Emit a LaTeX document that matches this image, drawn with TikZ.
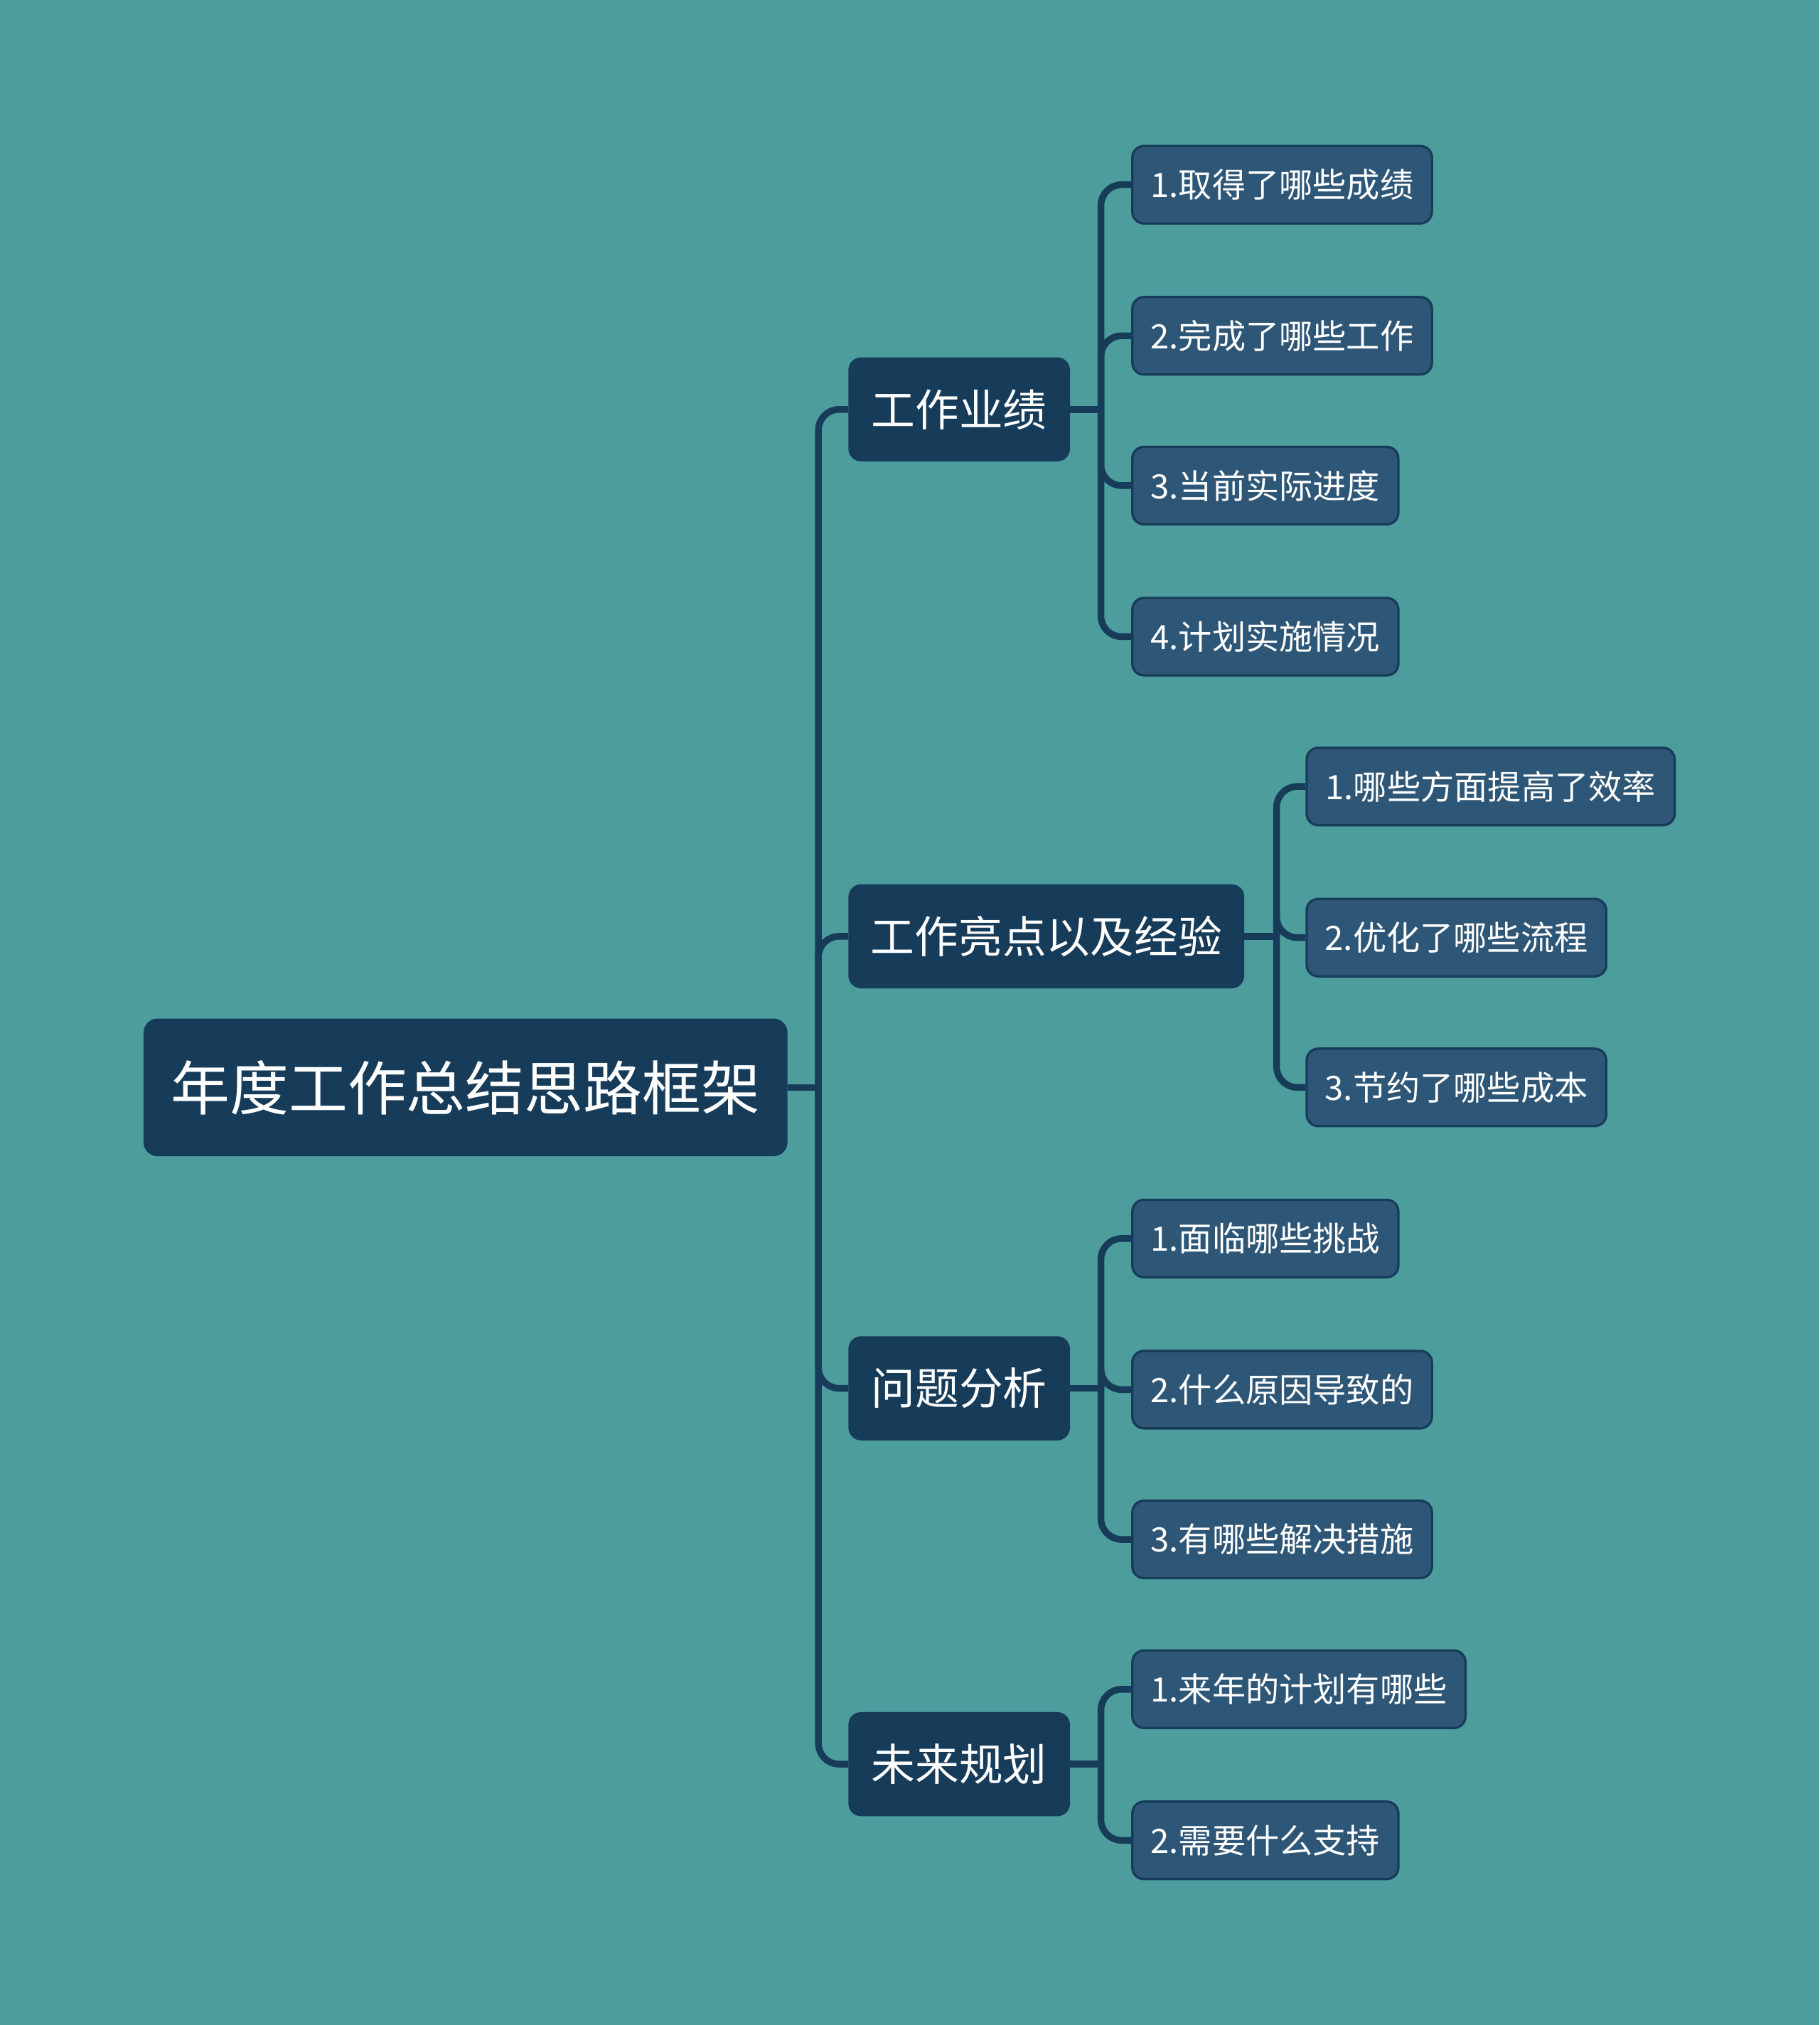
\documentclass[tikz,border=0pt]{standalone}
\usepackage{fontspec}
\newfontfamily\cjk{Noto Sans CJK SC}
\definecolor{bgteal}{HTML}{4C9D9C}
\definecolor{navy}{HTML}{173C5A}
\definecolor{slate}{HTML}{2E5676}
\tikzset{
  rootbox/.style={draw=navy, fill=navy, line width=0.8pt, rounded corners=5pt,
    text=white, font=\cjk\fontsize{22.8}{28}\selectfont, inner sep=0pt,
    minimum width=248.5pt, minimum height=52.5pt},
  topicbox/.style={draw=navy, fill=navy, line width=0.8pt, rounded corners=4.5pt,
    text=white, font=\cjk\fontsize{17}{20}\selectfont, inner sep=0pt,
    minimum height=39.5pt, anchor=west},
  itembox/.style={draw=navy, fill=slate, line width=0.9pt, rounded corners=4.5pt,
    text=white, font=\cjk\fontsize{13}{16}\selectfont, inner sep=0pt,
    minimum height=30pt, anchor=west},
  link/.style={draw=navy, line width=2.6pt, rounded corners=8pt}
}
\begin{document}
\begin{tikzpicture}[x=0.5pt,y=-0.5pt]
      \fill[bgteal] (0,0) rectangle (1409,1568);
      \useasboundingbox (0,0) rectangle (1409,1568);
      % root and main topics
      \node[rootbox] (root) at (360.5,842) {年度工作总结思路框架};
      \node[topicbox, minimum width=85pt] (perf) at (657,317) {工作业绩};
      \node[topicbox, minimum width=152.5pt] (high) at (657,725) {工作亮点以及经验};
      \node[topicbox, minimum width=85pt] (prob) at (657,1075) {问题分析};
      \node[topicbox, minimum width=85pt] (plan) at (657,1366) {未来规划};
      % sub items
      \node[itembox, minimum width=116pt] (perf1) at (876,143) {1.取得了哪些成绩};
      \node[itembox, minimum width=116pt] (perf2) at (876,260) {2.完成了哪些工作};
      \node[itembox, minimum width=103pt] (perf3) at (876,376) {3.当前实际进度};
      \node[itembox, minimum width=103pt] (perf4) at (876,493) {4.计划实施情况};
      \node[itembox, minimum width=142.5pt] (high1) at (1011,609) {1.哪些方面提高了效率};
      \node[itembox, minimum width=116pt] (high2) at (1011,726) {2.优化了哪些流程};
      \node[itembox, minimum width=116pt] (high3) at (1011,842) {3.节约了哪些成本};
      \node[itembox, minimum width=103pt] (prob1) at (876,959) {1.面临哪些挑战};
      \node[itembox, minimum width=116pt] (prob2) at (876,1076) {2.什么原因导致的};
      \node[itembox, minimum width=116pt] (prob3) at (876,1192) {3.有哪些解决措施};
      \node[itembox, minimum width=129pt] (plan1) at (876,1308) {1.来年的计划有哪些};
      \node[itembox, minimum width=103pt] (plan2) at (876,1425) {2.需要什么支持};
      % junctions
      \coordinate (rootj) at ([xshift=12pt]root.east);
      \coordinate (perfj) at ([xshift=12pt]perf.east);
      \coordinate (highj) at ([xshift=12.5pt]high.east);
      \coordinate (probj) at ([xshift=12pt]prob.east);
      \coordinate (planj) at ([xshift=12pt]plan.east);
      \begin{scope}[link]
        \draw (root.east) -- (rootj);
        \draw (rootj) |- (perf.west);
        \draw (rootj) |- (high.west);
        \draw (rootj) |- (prob.west);
        \draw (rootj) |- (plan.west);
        \draw (perf.east) -- (perfj);
        \draw (perfj) |- (perf1.west);
        \draw (perfj) |- (perf2.west);
        \draw (perfj) |- (perf3.west);
        \draw (perfj) |- (perf4.west);
        \draw (high.east) -- (highj);
        \draw (highj) |- (high1.west);
        \draw (highj) |- (high2.west);
        \draw (highj) |- (high3.west);
        \draw (prob.east) -- (probj);
        \draw (probj) |- (prob1.west);
        \draw (probj) |- (prob2.west);
        \draw (probj) |- (prob3.west);
        \draw (plan.east) -- (planj);
        \draw (planj) |- (plan1.west);
        \draw (planj) |- (plan2.west);
      \end{scope}
    \end{tikzpicture}
\end{document}
